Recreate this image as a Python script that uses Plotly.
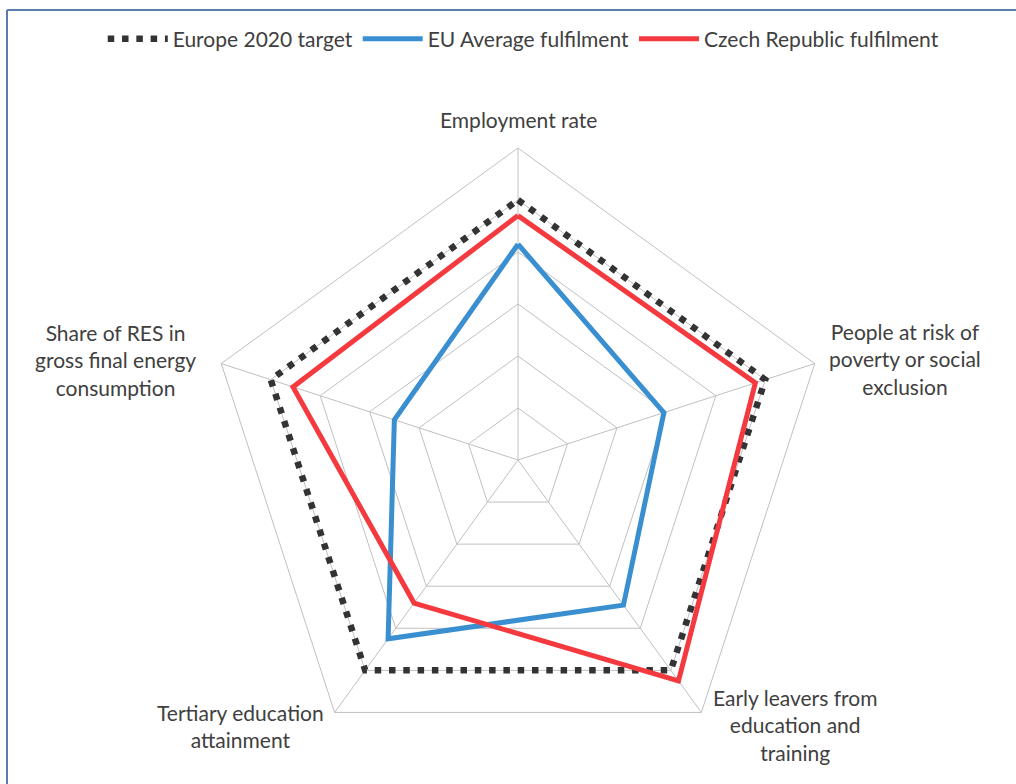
import plotly.graph_objects as go

categories = ["Employment rate", "People at risk of<br>poverty or social<br>exclusion",
              "Early leavers from<br>education and<br>training", "Tertiary education<br>attainment",
              "Share of RES in<br>gross final energy<br>consumption"]
target = [100, 100, 100, 100, 100]
eu_avg = [83, 59, 69, 85, 50]
czech = [94, 96, 105, 68, 91]

W, H = 1016, 784
cx, cy, R = 518, 460, 312

def closed(v):
    return v + v[:1]

theta = closed(categories)

fig = go.Figure()
fig.add_trace(go.Scatterpolar(r=closed(target), theta=theta, mode="lines",
                              name="Europe 2020 target",
                              line=dict(color="#333333", width=6.5, dash="6.5px,7.8px")))
fig.add_trace(go.Scatterpolar(r=closed(eu_avg), theta=theta, mode="lines",
                              name="EU Average fulfilment",
                              line=dict(color="#3a8fd0", width=5)))
fig.add_trace(go.Scatterpolar(r=closed(czech), theta=theta, mode="lines",
                              name="Czech Republic fulfilment",
                              line=dict(color="#f53a3f", width=5)))

font_family = "Lato, Open Sans, sans-serif"
txt_color = "#404040"
fs = 21

fig.update_layout(
    width=W, height=H,
    margin=dict(l=0, r=0, t=0, b=0),
    paper_bgcolor="white",
    font=dict(family=font_family, size=fs, color=txt_color),
    showlegend=True,
    legend=dict(orientation="h", x=0.515, xanchor="center", y=(H - 39) / H, yanchor="middle",
                font=dict(size=fs, color=txt_color), traceorder="normal",
                itemwidth=60, bgcolor="rgba(0,0,0,0)"),
    polar=dict(
        domain=dict(x=[(cx - R) / W, (cx + R) / W], y=[(H - cy - R) / H, (H - cy + R) / H]),
        gridshape="linear",
        bgcolor="white",
        radialaxis=dict(range=[0, 120], dtick=20, showticklabels=False, ticks="",
                        showline=False, gridcolor="#c0c0c0", gridwidth=1),
        angularaxis=dict(rotation=90, direction="clockwise", showticklabels=False, ticks="",
                         linecolor="#c0c0c0", linewidth=1, gridcolor="#c0c0c0", gridwidth=1),
    ),
)

# axis labels
label_pos = [(518, 119), (905, 359), (795, 725), (240, 726), (115, 360)]
for lab, (x, y) in zip(categories, label_pos):
    fig.add_annotation(x=x / W, y=1 - y / H, xref="paper", yref="paper", text=lab,
                       showarrow=False, align="center", xanchor="center", yanchor="middle",
                       font=dict(size=fs, color=txt_color, family=font_family))

# frame
frame_color = "#5a7dab"
fig.add_shape(type="line", xref="paper", yref="paper", x0=7 / W, x1=1.0, y0=1 - 10 / H, y1=1 - 10 / H,
              line=dict(color=frame_color, width=2))
fig.add_shape(type="line", xref="paper", yref="paper", x0=7 / W, x1=7 / W, y0=0, y1=1 - 10 / H,
              line=dict(color=frame_color, width=2))

fig.write_html("out.html", config={"displayModeBar": False},
               post_script="document.body.style.margin='0';document.body.style.overflow='hidden';")
